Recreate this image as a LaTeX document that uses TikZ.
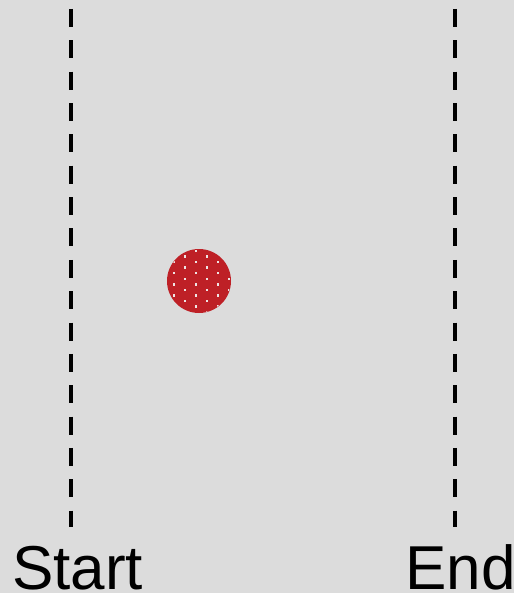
\documentclass[tikz,border=0pt]{standalone}
\usepackage{fontspec}
\setmainfont{Liberation Sans}
\usetikzlibrary{positioning}
\definecolor{bggray}{RGB}{220,220,220}
\definecolor{ballred}{RGB}{190,32,38}
\definecolor{dotwhite}{RGB}{238,228,228}
\begin{document}
\begin{tikzpicture}[x=1pt, y=-1pt, every node/.style={font=\fontsize{62}{66}\selectfont, inner sep=0pt}]
\tikzset{limit/.style={line width=4pt, dash pattern=on 18pt off 13.35pt}}
\fill[bggray] (0,0) rectangle (514,593);
\useasboundingbox (0,0) rectangle (514,593);
% limit lines
\coordinate (starttop) at (71,9);
\coordinate (startbot) at (71,527);
\coordinate (endtop) at (455,9);
\coordinate (endbot) at (455,527);
\draw[limit] (starttop) -- (startbot);
\draw[limit] (endtop) -- (endbot);
% labels
\node[anchor=base west] (startlbl) at (12,589) {Start};
\node[anchor=base east] (endlbl) at (516,589) {End};
% ball
\node[circle, fill=ballred, minimum size=64pt] (ball) at (199,281) {};
\begin{scope}
\clip (ball.center) circle (31.5pt);
\foreach \k in {0,2,...,12}
  \foreach \m in {-2,...,2}
    \fill[dotwhite] (196+22*\m-1.2,251+5.56*\k-1.2) rectangle ++(2.4,2.4);
\foreach \k in {1,3,...,11}
  \foreach \m in {-2,...,2}
    \fill[dotwhite] (185+22*\m-1.2,251+5.56*\k-1.2) rectangle ++(2.4,2.4);
\end{scope}
\end{tikzpicture}
\end{document}
